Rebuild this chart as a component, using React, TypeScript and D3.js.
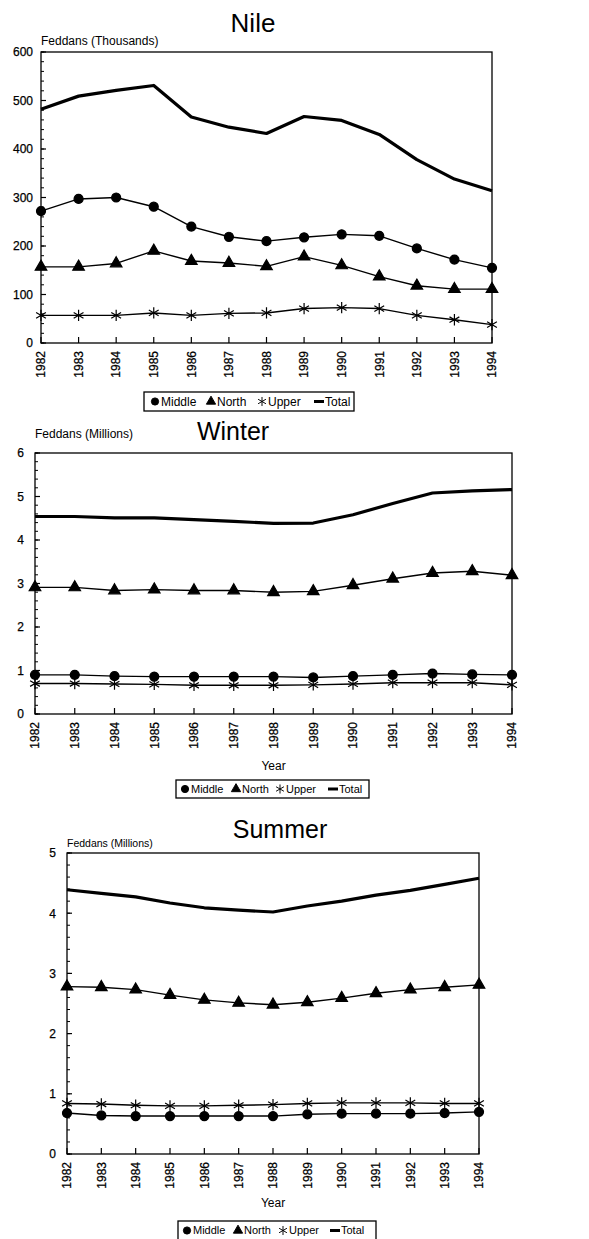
import React from 'react';
import * as d3 from 'd3';

// years on the x axis
const years = [1982, 1983, 1984, 1985, 1986, 1987, 1988, 1989, 1990, 1991, 1992, 1993, 1994];

// Nile, thousands of feddans
const nileMiddle = [272, 297, 300, 281, 240, 219, 210, 218, 224, 221, 195, 172, 155];
const nileNorth = [157, 157, 164, 190, 169, 165, 158, 178, 160, 137, 118, 111, 111];
const nileUpper = [57, 57, 57, 62, 57, 61, 62, 71, 73, 71, 57, 48, 38];
const nileTotal = [482, 509, 521, 531, 466, 445, 432, 467, 459, 430, 378, 338, 314];

// Winter, millions of feddans
const winterMiddle = [0.9, 0.9, 0.87, 0.86, 0.86, 0.86, 0.86, 0.84, 0.87, 0.9, 0.93, 0.91, 0.9];
const winterNorth = [2.91, 2.91, 2.84, 2.86, 2.84, 2.84, 2.8, 2.82, 2.96, 3.11, 3.24, 3.28, 3.19];
const winterUpper = [0.7, 0.7, 0.69, 0.68, 0.66, 0.66, 0.66, 0.67, 0.69, 0.72, 0.72, 0.72, 0.67];
const winterTotal = [4.54, 4.54, 4.51, 4.51, 4.47, 4.43, 4.38, 4.39, 4.58, 4.84, 5.08, 5.13, 5.16];

// Summer, millions of feddans
const summerMiddle = [0.68, 0.64, 0.63, 0.63, 0.63, 0.63, 0.63, 0.66, 0.67, 0.67, 0.67, 0.68, 0.7];
const summerNorth = [2.78, 2.77, 2.73, 2.64, 2.56, 2.51, 2.48, 2.52, 2.59, 2.67, 2.73, 2.77, 2.81];
const summerUpper = [0.84, 0.83, 0.81, 0.8, 0.8, 0.81, 0.82, 0.84, 0.85, 0.85, 0.85, 0.84, 0.84];
const summerTotal = [4.39, 4.33, 4.27, 4.17, 4.09, 4.05, 4.02, 4.12, 4.2, 4.3, 4.38, 4.48, 4.58];

const seriesNames = ['Middle', 'North', 'Upper', 'Total'];

const font = '"Liberation Sans", Arial, sans-serif';

const symbolFor = (name) => {
  if (name === 'Middle') return d3.symbol(d3.symbolCircle, 64)();
  if (name === 'North') return d3.symbol(d3.symbolTriangle, 58)();
  if (name === 'Upper') return d3.symbol(d3.symbolAsterisk, 90)();
  return null;
};

const Legend = ({ x, y, w, h, fs, dx }) => {
  const cy = y + h / 2;
  return (
    <g>
      <rect x={x} y={y} width={w} height={h} fill="white" stroke="black" strokeWidth={1.3} />
      {seriesNames.map((name, i) => (
        <g key={name}>
          {name === 'Total' ? (
            <line x1={x + dx[i] - 5} x2={x + dx[i] + 5} y1={cy} y2={cy} stroke="black" strokeWidth={3} />
          ) : (
            <path
              d={symbolFor(name)}
              transform={`translate(${x + dx[i]},${cy}) scale(0.8)`}
              fill={name === 'Upper' ? 'none' : 'black'}
              stroke="black"
              strokeWidth={1.2}
            />
          )}
          <text x={x + dx[i] + 6} y={cy} dy="0.36em" fontSize={fs} fontFamily={font}>
            {name}
          </text>
        </g>
      ))}
    </g>
  );
};

const Panel = ({ cfg, series }) => {
  const x = d3.scaleLinear().domain([years[0], years[years.length - 1]]).range([cfg.left, cfg.right]);
  const y = d3.scaleLinear().domain([0, cfg.yMax]).range([cfg.bottom, cfg.top]);
  const majors = d3.range(0, cfg.yMax + cfg.major / 2, cfg.major);
  const minors = d3.range(0, cfg.yMax + cfg.major / 20, cfg.major / 5);
  const line = d3.line().x((d, i) => x(years[i])).y((d) => y(d));

  return (
    <g>
      <text x={cfg.titleX} y={cfg.titleY} textAnchor="middle" fontSize={cfg.titleSize} fontFamily={font}>
        {cfg.title}
      </text>
      <text x={cfg.left} y={cfg.yLabelY} fontSize={cfg.yLabelSize} fontFamily={font}>
        {cfg.yLabel}
      </text>
      <rect
        x={cfg.left}
        y={cfg.top}
        width={cfg.right - cfg.left}
        height={cfg.bottom - cfg.top}
        fill="none"
        stroke="black"
        strokeWidth={1.3}
      />
      {minors.map((v) => (
        <line key={'mi' + v} x1={cfg.left} x2={cfg.left + 3} y1={y(v)} y2={y(v)} stroke="black" strokeWidth={1} />
      ))}
      {majors.map((v) => (
        <g key={'ma' + v}>
          <line x1={cfg.left} x2={cfg.left + 5} y1={y(v)} y2={y(v)} stroke="black" strokeWidth={1.2} />
          <text
            x={cfg.left - cfg.yTickGap}
            y={y(v)}
            dy="0.36em"
            textAnchor="end"
            fontSize={12}
            fontFamily={font}
            stroke="black"
            strokeWidth={0.25}
          >
            {v}
          </text>
        </g>
      ))}
      {years.map((yr) => (
        <g key={yr}>
          <line x1={x(yr)} x2={x(yr)} y1={cfg.bottom} y2={cfg.bottom - 6} stroke="black" strokeWidth={1.2} />
          <text
            transform={`translate(${x(yr)},${cfg.bottom + 8}) rotate(-90)`}
            dy="0.36em"
            textAnchor="end"
            fontSize={12}
            fontFamily={font}
            stroke="black"
            strokeWidth={0.25}
          >
            {yr}
          </text>
        </g>
      ))}
      {cfg.showYear && (
        <text x={x(1988)} y={cfg.yearY} textAnchor="middle" fontSize={12} fontFamily={font}>
          Year
        </text>
      )}
      {seriesNames.map((name, si) => (
        <g key={name}>
          <path
            d={line(series[si])}
            fill="none"
            stroke="black"
            strokeWidth={name === 'Total' ? 3.2 : 1.4}
            strokeLinejoin="round"
          />
          {name !== 'Total' &&
            series[si].map((v, i) => (
              <path
                key={i}
                d={symbolFor(name)}
                transform={`translate(${x(years[i])},${y(v)})`}
                fill={name === 'Upper' ? 'none' : 'black'}
                stroke="black"
                strokeWidth={1.2}
              />
            ))}
        </g>
      ))}
      <Legend {...cfg.legend} />
    </g>
  );
};

const panels = [
  {
    cfg: {
      title: 'Nile', titleX: 253, titleY: 32, titleSize: 26,
      yLabel: 'Feddans (Thousands)', yLabelY: 45, yLabelSize: 12,
      left: 41, right: 492, top: 52, bottom: 343, yMax: 600, major: 100, yTickGap: 8,
      showYear: false, yearY: 0,
      legend: { x: 144, y: 392, w: 210, h: 19, fs: 12, dx: [11, 67, 118, 175] },
    },
    series: [nileMiddle, nileNorth, nileUpper, nileTotal],
  },
  {
    cfg: {
      title: 'Winter', titleX: 233, titleY: 440, titleSize: 25,
      yLabel: 'Feddans (Millions)', yLabelY: 438, yLabelSize: 12,
      left: 35, right: 512, top: 453, bottom: 714, yMax: 6, major: 1, yTickGap: 11,
      showYear: true, yearY: 770,
      legend: { x: 176, y: 780, w: 193, h: 18, fs: 11, dx: [9, 60, 104, 157] },
    },
    series: [winterMiddle, winterNorth, winterUpper, winterTotal],
  },
  {
    cfg: {
      title: 'Summer', titleX: 280, titleY: 838, titleSize: 25,
      yLabel: 'Feddans (Millions)', yLabelY: 847, yLabelSize: 10.5,
      left: 67, right: 479, top: 853, bottom: 1154, yMax: 5, major: 1, yTickGap: 11,
      showYear: true, yearY: 1207,
      legend: { x: 178, y: 1221, w: 198, h: 19, fs: 11, dx: [9, 60, 105, 157] },
    },
    series: [summerMiddle, summerNorth, summerUpper, summerTotal],
  },
];

export default function App() {
  return (
    <div style={{ position: 'absolute', left: 0, top: 0 }}>
      <svg width={589} height={1239} style={{ display: 'block', background: 'white' }}>
        {panels.map((p) => (
          <Panel key={p.cfg.title} cfg={p.cfg} series={p.series} />
        ))}
      </svg>
    </div>
  );
}
